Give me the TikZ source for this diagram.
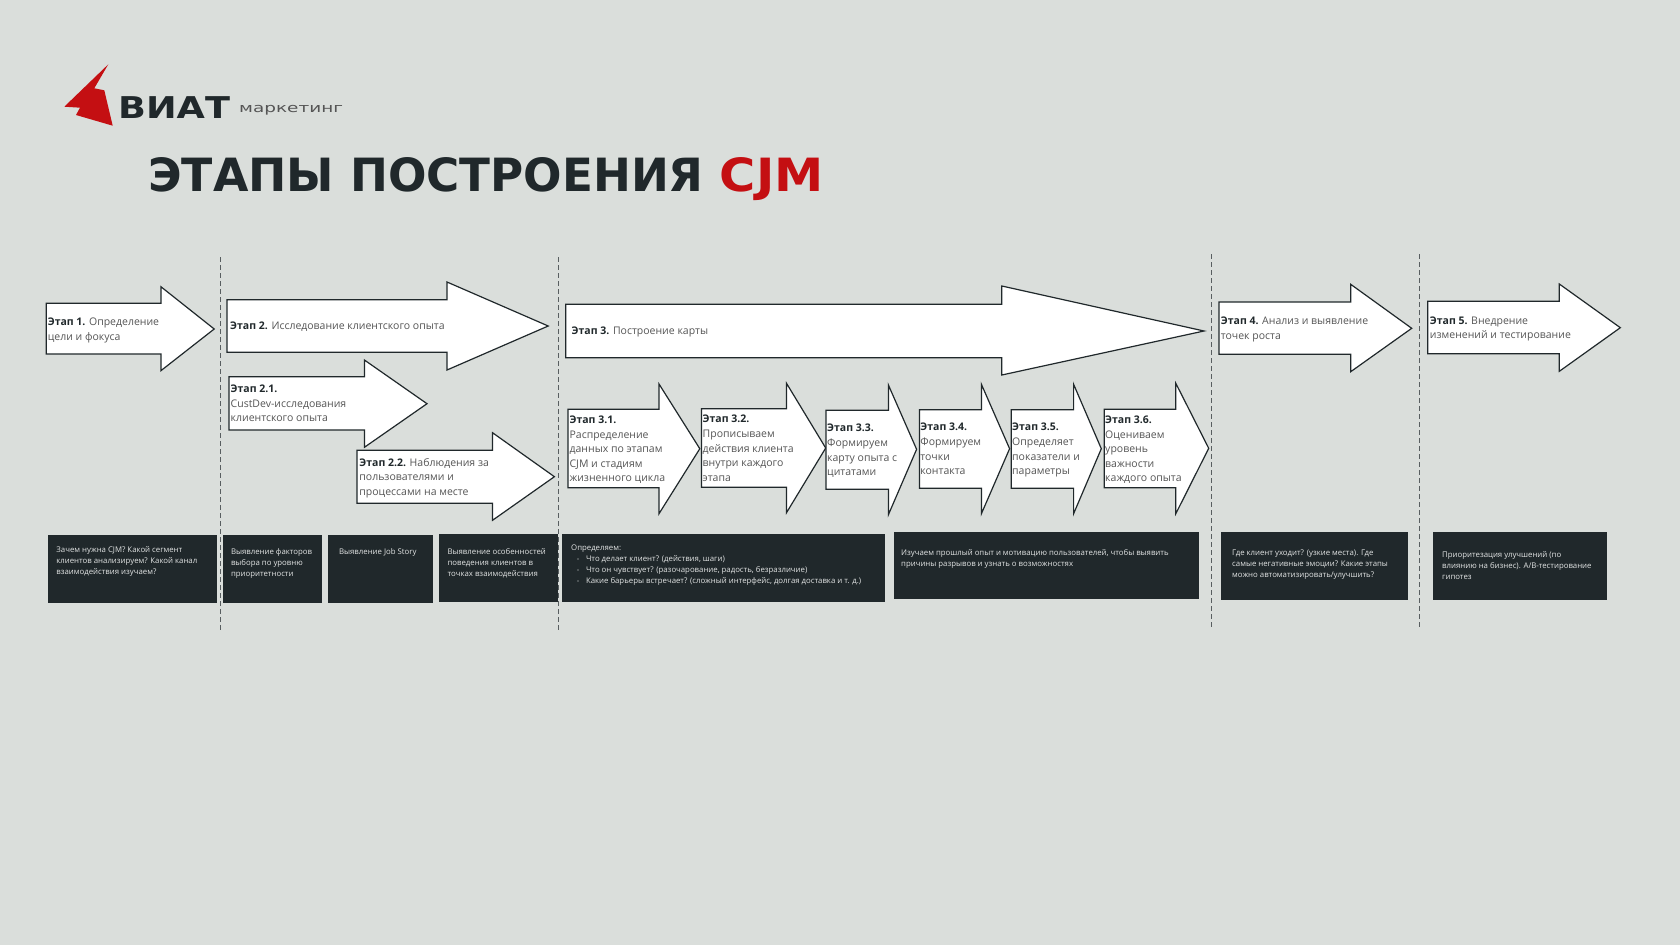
\documentclass[tikz,border=0pt]{standalone}
\usepackage{fontspec}
\usepackage{tikz}
\setmainfont{Open Sans}
\newfontfamily\titlefont{DejaVu Sans}
\definecolor{mBack}{HTML}{DADEDB}
\definecolor{mDark}{HTML}{20282B}
\definecolor{mRed}{HTML}{C40F12}
\definecolor{mGray}{HTML}{555555}
\definecolor{mPale}{HTML}{E2E4E4}
\newcommand{\stagearrow}[8]{%
  \draw[stagebox] (#1,#2) -- (#4,#2) -- (#4,#5) -- (#7,#8) -- (#4,#6) -- (#4,#3) -- (#1,#3) -- cycle;}
\newcommand{\stagelabel}[2]{{\bfseries\color{mDark}#1}\ifx&#2&\else{} #2\fi}
\begin{document}
\begin{tikzpicture}[
  x=1pt, y=-1pt,
  stagebox/.style={draw=mDark, line width=1.2pt, fill=white, line join=miter},
  item/.style={font=\fontsize{10.5}{14.6}\selectfont, anchor=north west, align=left, inner sep=0pt, text=mGray},
  noteBox/.style={fill=mDark, draw=none},
  note/.style={font=\fontsize{7.8}{11}\selectfont, anchor=north west, align=left, inner sep=0pt, text=mPale},
  divider/.style={draw=mDark!75, line width=0.9pt, dash pattern=on 4.5pt off 3.5pt},
]
  \useasboundingbox (0,0) rectangle (1680,945);
  \fill[mBack] (0,0) rectangle (1680,945);

  % logo
  \fill[mRed] (108.3,64.3) -- (94.3,88.3) -- (104.3,90.3) -- (112.7,125.7) -- (76,115) -- (80,107.7) -- (64.3,106.7) -- cycle;
  \node[anchor=base west, inner sep=0pt, font=\titlefont\bfseries\fontsize{30}{30}\selectfont, text=mDark] (logoName) at (118,118.3) {\scalebox{1.22}[1]{ВИАТ}};
  \node[anchor=base west, inner sep=0pt, font=\titlefont\fontsize{12.8}{12.8}\selectfont, text=mGray] (logoTail) at (239,112.7) {\scalebox{1.44}[1]{маркетинг}};
  \node[anchor=base west, inner sep=0pt, font=\titlefont\bfseries\fontsize{45.8}{45.8}\selectfont, text=mDark] (title) at (148,191) {ЭТАПЫ \scalebox{0.988}[1]{ПОСТРОЕНИЯ} \scalebox{1.08}[1]{\color{mRed}CJM}};

  % dividers
  \foreach \x/\top in {220/257, 558.6/257, 1211.3/254, 1419/254}
    \draw[divider] (\x,\top) -- (\x,630);

  % arrows
  \stagearrow{46.2}{303.3}{354}{160.9}{286.7}{370.7}{214.2}{329}
  \stagearrow{227}{299.7}{352.3}{447}{282}{370}{548.2}{326}
  \stagearrow{229}{376.7}{430}{364.4}{360}{447.3}{427}{403.7}
  \stagearrow{357}{450.3}{503.3}{492.5}{432.7}{520.3}{554.4}{476.7}
  \stagearrow{565.7}{304.3}{357.8}{1001.8}{286}{375}{1204}{331}
  \stagearrow{1219}{302}{354.3}{1350.7}{284.3}{371.7}{1411.7}{328.3}
  \stagearrow{1427.7}{301.3}{353.7}{1559.3}{284}{371.3}{1620.3}{327.7}
  \stagearrow{568}{409.3}{487.7}{659}{384}{513.7}{699.8}{448.7}
  \stagearrow{701.5}{408.7}{487.3}{786.5}{383.3}{512.7}{825.7}{448}
  \stagearrow{826}{410.3}{489.3}{888.4}{385}{514.7}{916.6}{449.3}
  \stagearrow{919.5}{409.7}{488.3}{981.4}{384.3}{513.7}{1009.6}{448.7}
  \stagearrow{1011.3}{409.7}{488.3}{1073.6}{384.3}{513.7}{1101.3}{448.7}
  \stagearrow{1104.3}{409.3}{487.7}{1175.8}{383.3}{513.7}{1208.7}{448.3}

  % arrow texts
  \node[item] (stageOne) at (47.6,317.7) {\stagelabel{Этап 1.}{Определение}\\цели и фокуса};
  \node[item] (stageTwo) at (230,321.7) {\stagelabel{Этап 2.}{Исследование клиентского опыта}};
  \node[item] (stageTwoOne) at (230.5,384.7) {\stagelabel{Этап 2.1.}{}\\CustDev-исследования\\клиентского опыта};
  \node[item] (stageTwoTwo) at (359.2,458) {\stagelabel{Этап 2.2.}{Наблюдения за}\\пользователями и\\процессами на месте};
  \node[item] (stageThree) at (571.5,326.5) {\stagelabel{Этап 3.}{Построение карты}};
  \node[item] (stageFour) at (1220.7,317) {\stagelabel{Этап 4.}{Анализ и выявление}\\точек роста};
  \node[item] (stageFive) at (1429.7,316.4) {\stagelabel{Этап 5.}{Внедрение}\\изменений и тестирование};
  \node[item] (stageThreeOne) at (569.4,415.7) {\stagelabel{Этап 3.1.}{}\\Распределение\\данных по этапам\\CJM и стадиям\\жизненного цикла};
  \node[item] (stageThreeTwo) at (702.5,415) {\stagelabel{Этап 3.2.}{}\\Прописываем\\действия клиента\\внутри каждого\\этапа};
  \node[item] (stageThreeThree) at (827,424) {\stagelabel{Этап 3.3.}{}\\Формируем\\карту опыта с\\цитатами};
  \node[item] (stageThreeFour) at (920.2,423) {\stagelabel{Этап 3.4.}{}\\Формируем\\точки\\контакта};
  \node[item] (stageThreeFive) at (1012,423) {\stagelabel{Этап 3.5.}{}\\Определяет\\показатели и\\параметры};
  \node[item] (stageThreeSix) at (1105,415.7) {\stagelabel{Этап 3.6.}{}\\Оцениваем\\уровень\\важности\\каждого опыта};

  % dark notes
  \foreach \xa/\ya/\xb/\yb in {48/534.7/217/602.7, 223.2/534.7/322/602.7, 328.2/534.7/433.2/602.7,
      438.8/534/557.5/602.3, 561.5/534.3/885/602.3, 893.9/531.7/1199.4/599.3,
      1221.3/531.7/1407.7/600, 1433.3/531.7/1607.3/600}
    \fill[noteBox] (\xa,\ya) rectangle (\xb,\yb);

  \node[note] (noteOne) at (56.2,546) {Зачем нужна CJM? Какой сегмент\\клиентов анализируем? Какой канал\\взаимодействия изучаем?};
  \node[note] (noteTwo) at (230.8,548.5) {Выявление факторов\\выбора по уровню\\приоритетности};
  \node[note] (noteThree) at (338.9,548.5) {Выявление Job Story};
  \node[note] (noteFour) at (447.4,548.5) {Выявление особенностей\\поведения клиентов в\\точках взаимодействия};
  \node[note] (noteFive) at (571,544.5) {Определяем:};
  \foreach \yy/\txt [count=\i] in {555.5/Что делает клиент? (действия{,} шаги),
      566.5/Что он чувствует? (разочарование{,} радость{,} безразличие),
      577.5/Какие барьеры встречает? (сложный интерфейс{,} долгая доставка и т. д.)}{
    \fill[mPale] (578,\yy+3.5) circle (0.7);
    \node[note] (noteBullet\i) at (585.8,\yy) {\txt};
  }
  \node[note] (noteSix) at (901,549) {Изучаем прошлый опыт и мотивацию пользователей, чтобы выявить\\причины разрывов и узнать о возможностях};
  \node[note] (noteSeven) at (1232,550) {Где клиент уходит? (узкие места). Где\\самые негативные эмоции? Какие этапы\\можно автоматизировать/улучшить?};
  \node[note] (noteEight) at (1442,551) {Приоритезация улучшений (по\\влиянию на бизнес). A/B-тестирование\\гипотез};
\end{tikzpicture}
\end{document}
